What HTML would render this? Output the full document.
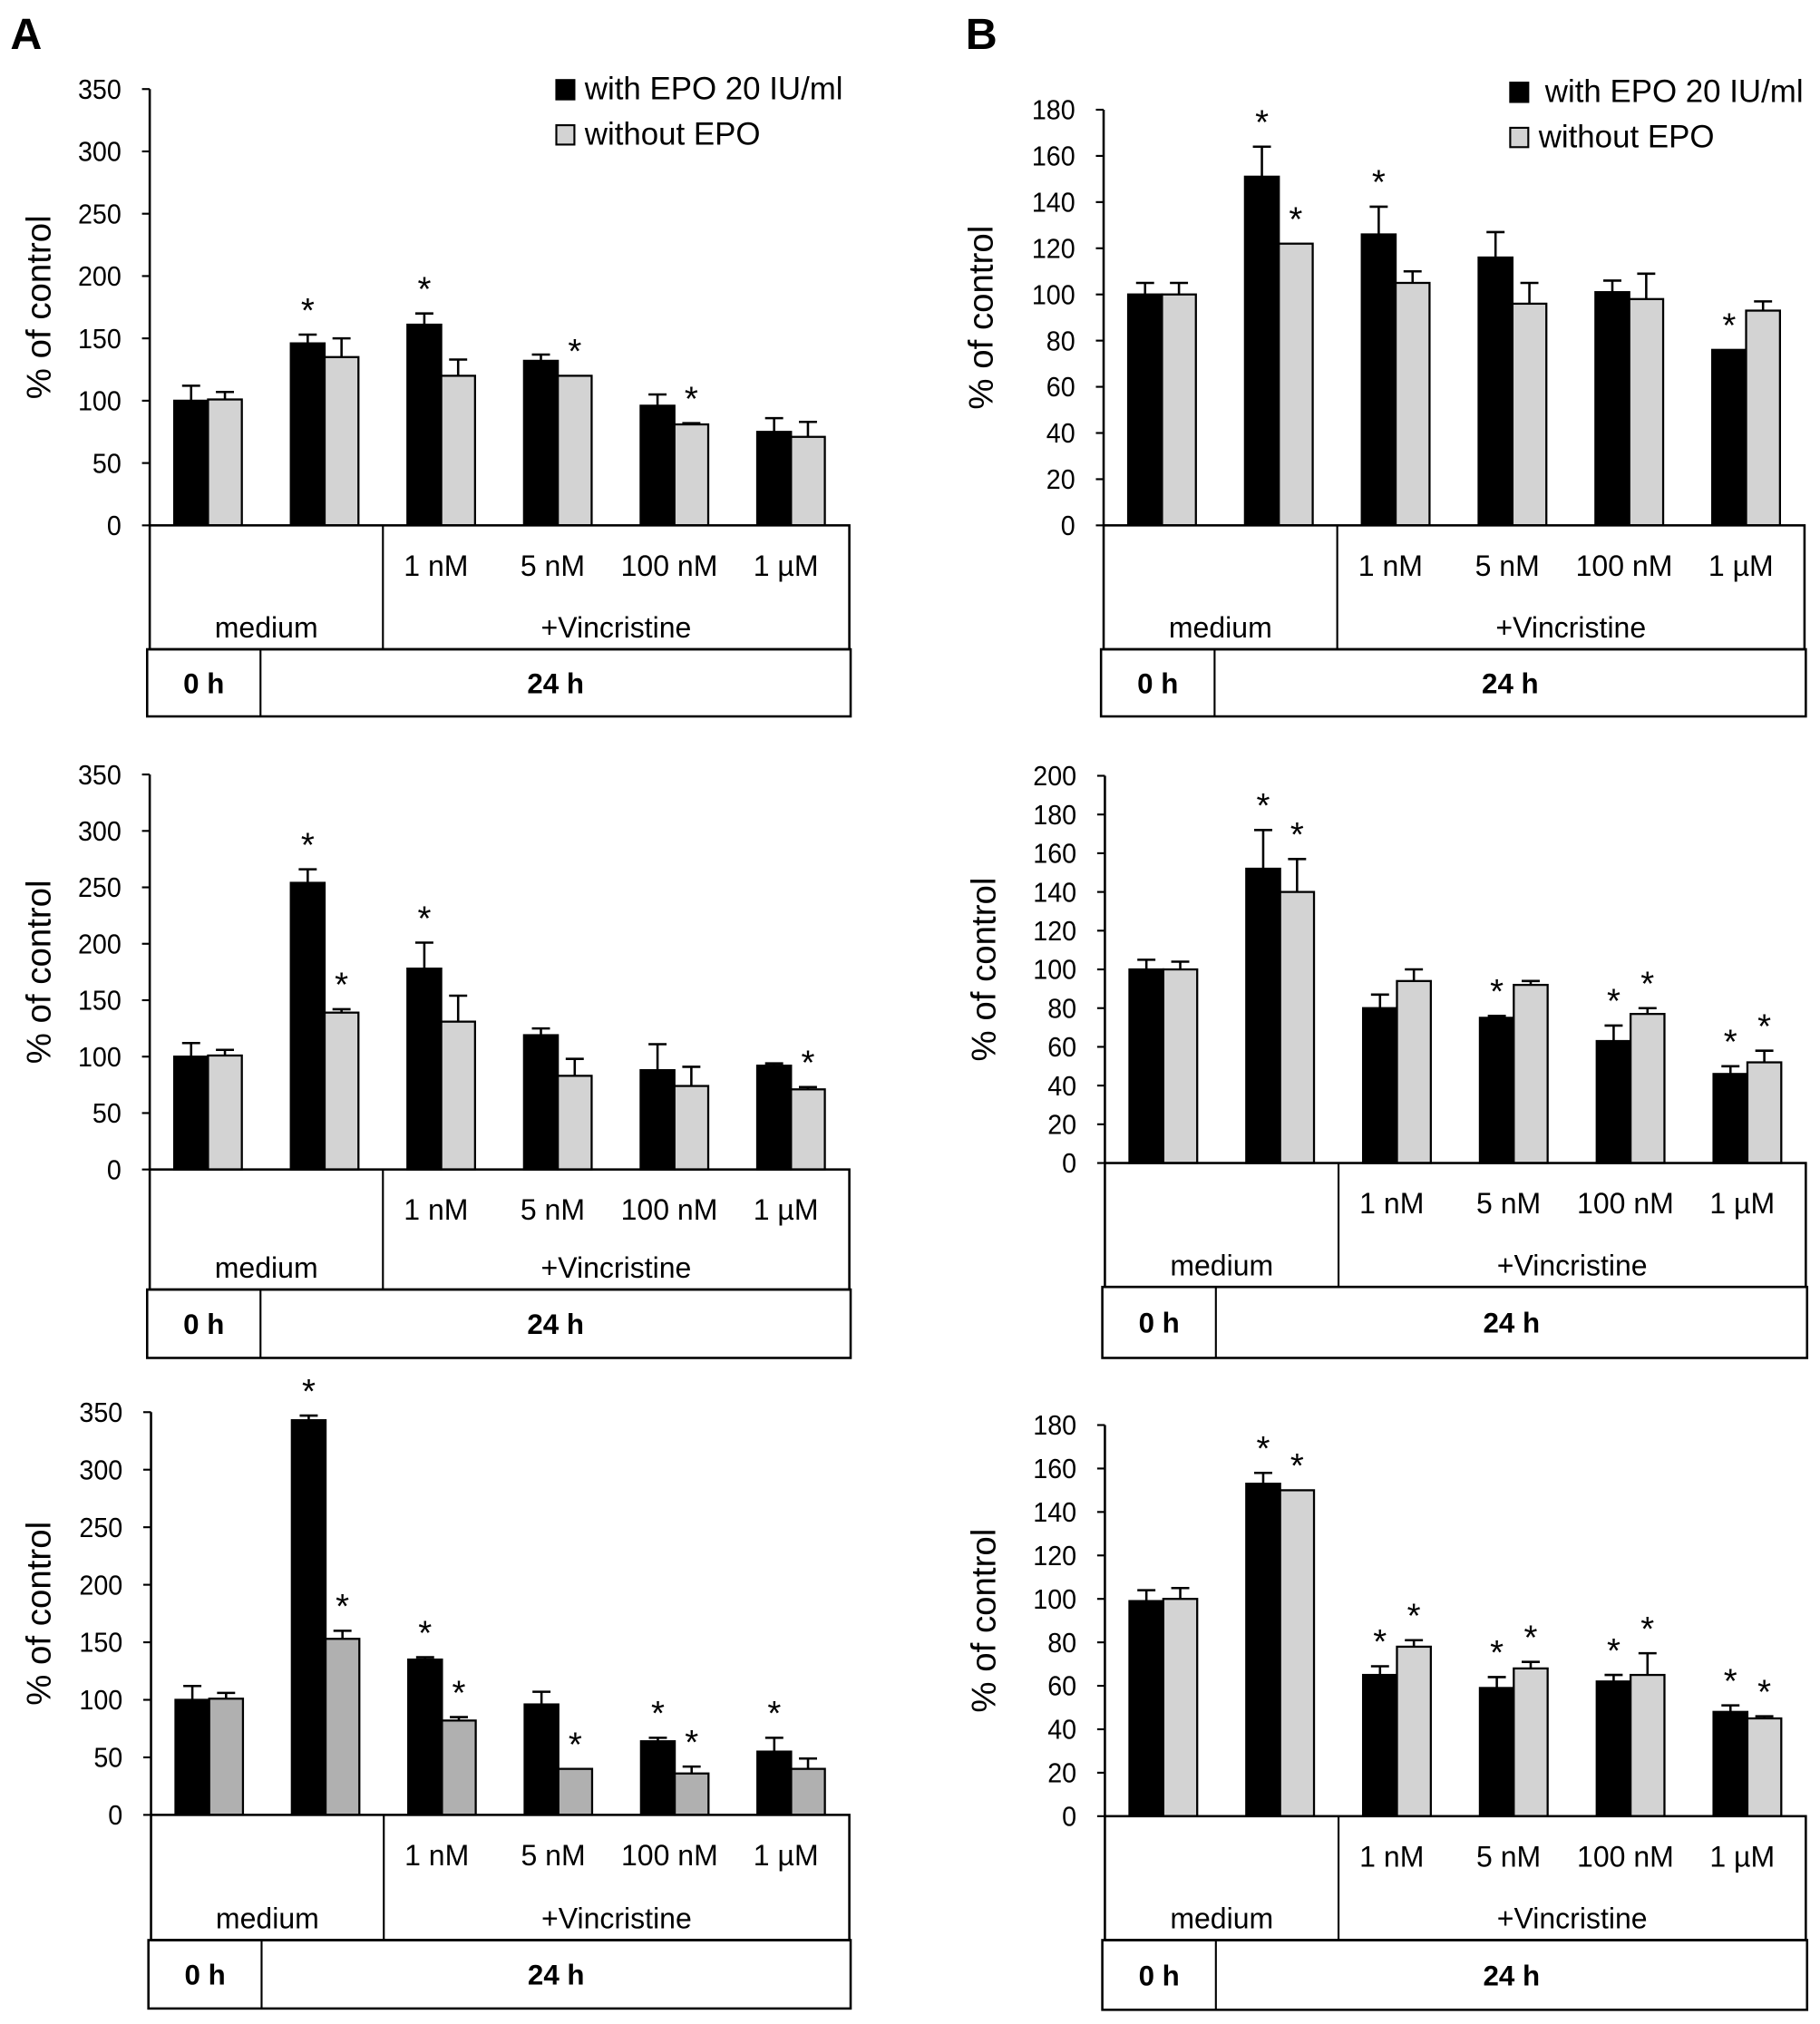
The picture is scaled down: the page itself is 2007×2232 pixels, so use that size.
<!DOCTYPE html>
<html><head><meta charset="utf-8"><style>
html,body{margin:0;padding:0;background:#fff;}
svg{display:block;font-family:"Liberation Sans",sans-serif;}
</style></head><body>
<svg id="fig" width="2007" height="2232" viewBox="0 0 1410 1568" preserveAspectRatio="none" xmlns="http://www.w3.org/2000/svg">
<text x="8" y="38" font-size="34" font-weight="bold">A</text>
<text x="748" y="38" font-size="34" font-weight="bold">B</text>
</svg>
<script>
const categories = ["0h-medium","24h-medium","1 nM","5 nM","100 nM","1 µM"];
const concLabels = ["1 nM","5 nM","100 nM","1 µM"];
// Panel A1
const a1Epo = [100,146,161,132,96,75];
const a1EpoErr = [12,7,9,5,9,11];
const a1No = [101,135,120,120,81,71];
const a1NoErr = [6,15,13,0,1,12];
const a1StarEpo = [1,2];
const a1StarNo = [3,4];
const a1Ticks = [0,50,100,150,200,250,300,350];
// Panel A2
const a2Epo = [100,254,178,119,88,92];
const a2EpoErr = [12,12,23,6,23,2];
const a2No = [101,139,131,83,74,71];
const a2NoErr = [5,3,23,15,17,2];
const a2StarEpo = [1,2];
const a2StarNo = [1,5];
const a2Ticks = [0,50,100,150,200,250,300,350];
// Panel A3
const a3Epo = [100,343,135,96,64,55];
const a3EpoErr = [12,4,2,11,3,12];
const a3No = [101,153,82,40,36,40];
const a3NoErr = [5,7,3,0,6,9];
const a3StarEpo = [1,2,4,5];
const a3StarNo = [1,2,3,4];
const a3Ticks = [0,50,100,150,200,250,300,350];
// Panel B1
const b1Epo = [100,151,126,116,101,76];
const b1EpoErr = [5,13,12,11,5,0];
const b1No = [100,122,105,96,98,93];
const b1NoErr = [5,0,5,9,11,4];
const b1StarEpo = [1,2,5];
const b1StarNo = [1];
const b1Ticks = [0,20,40,60,80,100,120,140,160,180];
// Panel B2
const b2Epo = [100,152,80,75,63,46];
const b2EpoErr = [5,20,7,1,8,4];
const b2No = [100,140,94,92,77,52];
const b2NoErr = [4,17,6,2,3,6];
const b2StarEpo = [1,3,4,5];
const b2StarNo = [1,4,5];
const b2Ticks = [0,20,40,60,80,100,120,140,160,180,200];
// Panel B3
const b3Epo = [99,153,65,59,62,48];
const b3EpoErr = [5,5,4,5,3,3];
const b3No = [100,150,78,68,65,45];
const b3NoErr = [5,0,3,3,10,1];
const b3StarEpo = [1,2,3,4,5];
const b3StarNo = [1,2,3,4,5];
const b3Ticks = [0,20,40,60,80,100,120,140,160,180];

const NS = "http://www.w3.org/2000/svg";
const svg = document.getElementById("fig");
function mk(parent, tag, attrs, txt){
  const e = document.createElementNS(NS, tag);
  for (const k in attrs) e.setAttribute(k, attrs[k]);
  if (txt !== undefined) e.textContent = txt;
  parent.appendChild(e);
  return e;
}

function panel(id, cfg, epo, epoErr, no, noErr, starE, starN, ticks){
  const g = mk(svg, "g", {});
  
  
  const x0 = cfg.x0, x1 = cfg.x1, y0 = cfg.y0, yTop = cfg.yTop, vmax = ticks[ticks.length-1];
  const yScale = v => y0 - (v / vmax) * (y0 - yTop);
  const step = (x1 - x0) / categories.length;
  const bw = step * 0.29;
  const xCenter = i => x0 + step * (i + 0.5);
  const ax = mk(g, "line", {x1:x0, y1:yTop, x2:x0, y2:y0, stroke:"#000", "stroke-width":1.8});
  
  
  ticks.forEach(t => {
    const y = yScale(t);
    mk(g, "line", {x1:x0-6, y1:y, x2:x0, y2:y, stroke:"#000", "stroke-width":1.5});
    const tl = mk(g, "text", {x:x0-22, y:y+7.5, "font-size":21.5, "text-anchor":"end", "textLength": String(t).length*11.2, "lengthAdjust":"spacingAndGlyphs"}, String(t));
    
    
  });
  const yt = mk(g, "text", {x:0, y:0, "font-size":27, "text-anchor":"middle", transform:`translate(${cfg.titleX},${(y0+yTop)/2}) rotate(-90)`}, "% of control");
  
  
  function bar(i, v, err, left, fill, star){
    const x = left ? xCenter(i) - bw : xCenter(i);
    const y = yScale(v);
    const ey = yScale(v + err);
    const cx = x + bw/2;
    if (err > 0) {
      const e1 = mk(g, "line", {x1:cx, y1:y, x2:cx, y2:ey, stroke:"#000", "stroke-width":1.8});
      
      
      mk(g, "line", {x1:cx-7, y1:ey, x2:cx+7, y2:ey, stroke:"#000", "stroke-width":1.8});
    }
    const r = mk(g, "rect", {x:x, y:y, width:bw, height:y0-y, fill:fill, stroke:"#000", "stroke-width":1.6});
    
    
    if (star) {
      const s = mk(g, "text", {x:cx, y:ey-10, "font-size":27, "text-anchor":"middle"}, "*");
      
      
    }
  }
  categories.forEach((c, i) => {
    bar(i, epo[i], epoErr[i], true, "#000", starE.includes(i));
    bar(i, no[i], noErr[i], false, cfg.gray, starN.includes(i));
  });
  const cb = cfg.boxBot, tb = cfg.timeBot;
  const bx = mk(g, "rect", {x:x0, y:y0, width:x1-x0, height:cb-y0, fill:"none", stroke:"#000", "stroke-width":1.8});
  
  
  const div = x0 + step*2;
  mk(g, "line", {x1:div, y1:y0, x2:div, y2:cb, stroke:"#000", "stroke-width":1.5});
  concLabels.forEach((l, k) => {
    const t = mk(g, "text", {x:xCenter(k+2)-4, y:y0+39, "font-size":22.5, "text-anchor":"middle"}, l);
    
    
  });
  const med = mk(g, "text", {x:(x0+div)/2, y:cb-9, "font-size":22.5, "text-anchor":"middle"}, "medium");
  
  
  const vin = mk(g, "text", {x:(div+x1)/2, y:cb-9, "font-size":22.5, "text-anchor":"middle"}, "+Vincristine");
  
  
  const tx0 = x0 - 2, tx1 = x1 + 1, tdiv = x0 + step*0.95;
  const tbx = mk(g, "rect", {x:tx0, y:cb, width:tx1-tx0, height:tb-cb, fill:"none", stroke:"#000", "stroke-width":1.8});
  
  
  mk(g, "line", {x1:tdiv, y1:cb, x2:tdiv, y2:tb, stroke:"#000", "stroke-width":1.5});
  const t0 = mk(g, "text", {x:(tx0+tdiv)/2, y:(cb+tb)/2+8, "font-size":22, "font-weight":"bold", "text-anchor":"middle"}, "0 h");
  
  
  const t24 = mk(g, "text", {x:(tdiv+tx1)/2, y:(cb+tb)/2+8, "font-size":22, "font-weight":"bold", "text-anchor":"middle"}, "24 h");
  
  
  if (cfg.legend) {
    const L = cfg.legend;
    const lg = mk(g, "g", {});
    
    
    mk(lg, "rect", {x:L.x, y:L.y, width:14, height:15, fill:"#000", stroke:"#000", "stroke-width":1.5});
    const l1 = mk(lg, "text", {x:L.x+L.dx, y:L.y+15, "font-size":24.5}, "with EPO 20 IU/ml");
    
    
    mk(lg, "rect", {x:L.x, y:L.y+35, width:14, height:15, fill:"#d3d3d3", stroke:"#000", "stroke-width":1.5});
    const l2 = mk(lg, "text", {x:L.x+22, y:L.y+50, "font-size":24.5}, "without EPO");
    
    
  }
}

panel("chart-a1", {x0:116, x1:658, y0:407, yTop:69, titleX:39, gray:"#d3d3d3", boxBot:503, timeBot:555, legend:{x:431, y:62, dx:22}}, a1Epo, a1EpoErr, a1No, a1NoErr, a1StarEpo, a1StarNo, a1Ticks);
panel("chart-a2", {x0:116, x1:658, y0:906, yTop:600, titleX:39, gray:"#d3d3d3", boxBot:999, timeBot:1052}, a2Epo, a2EpoErr, a2No, a2NoErr, a2StarEpo, a2StarNo, a2Ticks);
panel("chart-a3", {x0:117, x1:658, y0:1406, yTop:1094, titleX:39, gray:"#b0b0b0", boxBot:1503, timeBot:1556}, a3Epo, a3EpoErr, a3No, a3NoErr, a3StarEpo, a3StarNo, a3Ticks);
panel("chart-b1", {x0:855, x1:1398, y0:407, yTop:85, titleX:769, gray:"#d3d3d3", boxBot:503, timeBot:555, legend:{x:1170, y:64, dx:27}}, b1Epo, b1EpoErr, b1No, b1NoErr, b1StarEpo, b1StarNo, b1Ticks);
panel("chart-b2", {x0:856, x1:1399, y0:901, yTop:601, titleX:771, gray:"#d3d3d3", boxBot:997, timeBot:1052}, b2Epo, b2EpoErr, b2No, b2NoErr, b2StarEpo, b2StarNo, b2Ticks);
panel("chart-b3", {x0:856, x1:1399, y0:1407, yTop:1104, titleX:771, gray:"#d3d3d3", boxBot:1503, timeBot:1557}, b3Epo, b3EpoErr, b3No, b3NoErr, b3StarEpo, b3StarNo, b3Ticks);
</script>
</body></html>
